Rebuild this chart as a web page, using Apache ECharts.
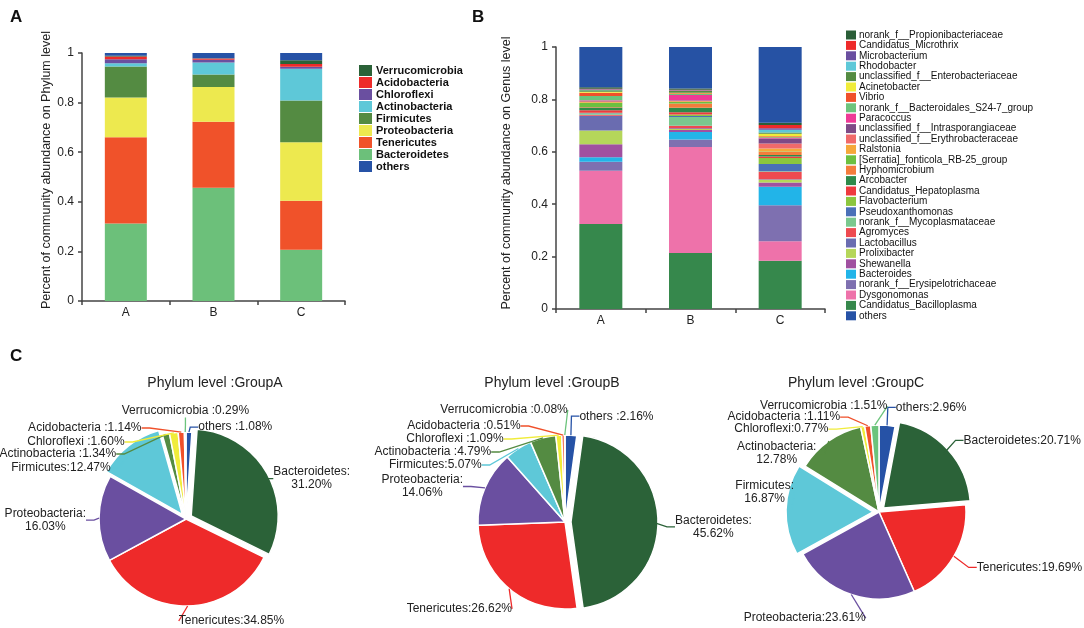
<!DOCTYPE html>
<html><head><meta charset="utf-8">
<script src="https://cdn.jsdelivr.net/npm/echarts@6/dist/echarts.min.js"></script>
<style>html,body{margin:0;padding:0;background:#fff}#c{width:1084px;height:628px}</style>
</head><body><div id="c"></div>
<script>
// ---------- DATA ----------
const groups = ['A', 'B', 'C'];
// phylum level, percent (pie order, clockwise from 12 o'clock)
const phylumNames = ['others', 'Bacteroidetes', 'Tenericutes', 'Proteobacteria', 'Firmicutes', 'Actinobacteria', 'Chloroflexi', 'Acidobacteria', 'Verrucomicrobia'];
const phylumA = [1.08, 31.20, 34.85, 16.03, 12.47, 1.34, 1.60, 1.14, 0.29];
const phylumB = [2.16, 45.62, 26.62, 14.06, 5.07, 4.79, 1.09, 0.51, 0.08];
const phylumC = [2.96, 20.71, 19.69, 23.61, 16.87, 12.78, 0.77, 1.11, 1.51];
const phylumLegend = ['Verrucomicrobia', 'Acidobacteria', 'Chloroflexi', 'Actinobacteria', 'Firmicutes', 'Proteobacteria', 'Tenericutes', 'Bacteroidetes', 'others'];
const pieTitles = ['Phylum level :GroupA', 'Phylum level :GroupB', 'Phylum level :GroupC'];
// label text details: which labels break onto two lines, which have " :" separator
const pieWrapped = [['Bacteroidetes', 'Proteobacteria'], ['Bacteroidetes', 'Proteobacteria'], ['Firmicutes', 'Actinobacteria']];
const pieSpaced = [['Verrucomicrobia', 'others', 'Acidobacteria', 'Chloroflexi', 'Actinobacteria'],
                   ['Verrucomicrobia', 'others', 'Acidobacteria', 'Chloroflexi', 'Actinobacteria'],
                   ['Verrucomicrobia', 'Acidobacteria']];
// genus level, fraction (legend order, top to bottom)
const genusNames = ['norank_f__Propionibacteriaceae', 'Candidatus_Microthrix', 'Microbacterium', 'Rhodobacter',
  'unclassified_f__Enterobacteriaceae', 'Acinetobacter', 'Vibrio', 'norank_f__Bacteroidales_S24-7_group', 'Paracoccus',
  'unclassified_f__Intrasporangiaceae', 'unclassified_f__Erythrobacteraceae', 'Ralstonia', '[Serratia]_fonticola_RB-25_group',
  'Hyphomicrobium', 'Arcobacter', 'Candidatus_Hepatoplasma', 'Flavobacterium', 'Pseudoxanthomonas', 'norank_f__Mycoplasmataceae',
  'Agromyces', 'Lactobacillus', 'Prolixibacter', 'Shewanella', 'Bacteroides', 'norank_f__Erysipelotrichaceae', 'Dysgonomonas',
  'Candidatus_Bacilloplasma', 'others'];
const genusA = [0.005, 0.002, 0.002, 0.002, 0.006, 0.004, 0.012, 0.016, 0.002, 0.002, 0.003, 0.003, 0.016, 0.002, 0.010, 0.010, 0.002, 0.002, 0.004, 0.003, 0.057, 0.052, 0.050, 0.017, 0.034, 0.204, 0.324, 0.154];
const genusB = [0.005, 0.002, 0.002, 0.001, 0.007, 0.002, 0.002, 0.004, 0.020, 0.002, 0.002, 0.003, 0.006, 0.016, 0.017, 0.009, 0.005, 0.004, 0.034, 0.009, 0.003, 0.004, 0.007, 0.029, 0.029, 0.404, 0.214, 0.158];
const genusC = [0.009, 0.012, 0.006, 0.010, 0.005, 0.010, 0.003, 0.003, 0.002, 0.019, 0.019, 0.012, 0.002, 0.011, 0.006, 0.006, 0.023, 0.027, 0.002, 0.029, 0.002, 0.010, 0.016, 0.071, 0.137, 0.075, 0.184, 0.289];
const yTicks = [0, 0.2, 0.4, 0.6, 0.8, 1];

// ---------- STYLES / LAYOUT ----------
const FONT = 'Liberation Sans, Arial, sans-serif';
const phylumBarColors = {
  Verrucomicrobia: '#2b6238', Acidobacteria: '#ee2a2a', Chloroflexi: '#6a4fa0', Actinobacteria: '#5ec8d8',
  Firmicutes: '#548b42', Proteobacteria: '#ede94f', Tenericutes: '#f0522a', Bacteroidetes: '#6cc07a', others: '#2652a6'
};
const phylumPieColors = {
  others: '#2652a6', Bacteroidetes: '#2b6238', Tenericutes: '#ee2a2a', Proteobacteria: '#6a4fa0', Firmicutes: '#5ec8d8',
  Actinobacteria: '#548b42', Chloroflexi: '#f0ec3a', Acidobacteria: '#f0502a', Verrucomicrobia: '#6cc47c'
};
const genusColors = ['#2b5e38', '#ee2a2a', '#6a4fa0', '#5ec8d8', '#548b42', '#f0ec3a', '#f0502a', '#6cc47c', '#ee3a96',
  '#7e4a86', '#f06a6a', '#f5a83a', '#6cc040', '#f47c3c', '#2e8a4a', '#ee3a3e', '#8cc63e', '#4a70b8', '#7ac88e', '#ee4a50',
  '#6a6cb0', '#b5d65a', '#a050a0', '#22b4e8', '#7e70b0', '#ee72aa', '#36884c', '#2652a4'];
const pieCenters = [[186, 519], [565, 522], [879, 512]];
const pieExplode = [['Bacteroidetes', 'Firmicutes'], ['Bacteroidetes'], ['Bacteroidetes', 'Firmicutes']];
// fine nudges of the automatically placed pie labels [dx, dy]
const pieLabelShift = [
  {Verrucomicrobia: [77, -13], others: [-4, 3], Acidobacteria: [15, -11], Chloroflexi: [16, -12], Actinobacteria: [19, -15],
   Firmicutes: [21, -16], Bacteroidetes: [-8, 7], Proteobacteria: [3, 2], Tenericutes: [-22, 7]},
  {Verrucomicrobia: [16, -17], others: [-5, -11], Acidobacteria: [15, -16], Chloroflexi: [16, -18], Actinobacteria: [15, -20],
   Firmicutes: [13, -22], Proteobacteria: [0, -22], Bacteroidetes: [2, 5], Tenericutes: [21, 14]},
  {Verrucomicrobia: [26, -11], others: [-5, -10], Acidobacteria: [21, -15], Chloroflexi: [27, -18], Actinobacteria: [30, -15],
   Firmicutes: [18, -17], Bacteroidetes: [1, -8], Tenericutes: [3, 7], Proteobacteria: [30, 16]}
];

const chart = echarts.init(document.getElementById('c'), null, {renderer: 'canvas'});

function yAxisCfg(gridIndex, name, gap, shift) {
  return {
    type: 'value', gridIndex, min: 0, max: 1, interval: 0.2, name, nameLocation: 'middle', nameGap: gap,
    nameTextStyle: {fontFamily: FONT, fontSize: 12.5, color: '#222', padding: [0, 0, 0, shift]},
    axisLine: {show: true, lineStyle: {color: '#444', width: 1.5}},
    axisTick: {show: true, length: 4, lineStyle: {color: '#444', width: 1.5}},
    axisLabel: {fontFamily: FONT, fontSize: 12, color: '#222', margin: 8,
      formatter: v => (yTicks.indexOf(+v.toFixed(1)) >= 0 ? String(+v.toFixed(1)) : '')},
    splitLine: {show: false}
  };
}
function xAxisCfg(gridIndex) {
  return {
    type: 'category', gridIndex, data: groups, boundaryGap: true,
    axisLine: {lineStyle: {color: '#444', width: 1.5}},
    axisTick: {show: true, length: 4, alignWithLabel: false, lineStyle: {color: '#444', width: 1.5}},
    axisLabel: {fontFamily: FONT, fontSize: 12, color: '#222', margin: 6}
  };
}

const series = [];
// Chart A: phylum stacked bars (bottom -> top)
const phylumStack = ['Bacteroidetes', 'Tenericutes', 'Proteobacteria', 'Firmicutes', 'Actinobacteria', 'Chloroflexi', 'Acidobacteria', 'Verrucomicrobia', 'others'];
const phylumByGroup = [phylumA, phylumB, phylumC];
phylumStack.forEach(n => {
  const idx = phylumNames.indexOf(n);
  series.push({
    type: 'bar', name: n, xAxisIndex: 0, yAxisIndex: 0, stack: 'phylum', barWidth: 42,
    itemStyle: {color: phylumBarColors[n]},
    data: phylumByGroup.map(arr => arr[idx] / 100)
  });
});
// Chart B: genus stacked bars (bottom = last legend entry before others)
const genusByGroup = [genusA, genusB, genusC];
const genusStackIdx = [];
for (let i = genusNames.length - 2; i >= 0; i--) genusStackIdx.push(i);
genusStackIdx.push(genusNames.length - 1);
genusStackIdx.forEach(i => {
  series.push({
    type: 'bar', name: genusNames[i], xAxisIndex: 1, yAxisIndex: 1, stack: 'genus', barWidth: 43,
    itemStyle: {color: genusColors[i]},
    data: genusByGroup.map(arr => arr[i])
  });
});
// Pies: one drawing the sectors (with exploded slices), one transparent twin carrying the labels
phylumByGroup.forEach((arr, g) => {
  const common = {type: 'pie', center: pieCenters[g], radius: 87, startAngle: 90, clockwise: true, emphasis: {disabled: true}};
  series.push(Object.assign({}, common, {
    name: pieTitles[g], selectedMode: 'multiple', selectedOffset: 6,
    itemStyle: {borderColor: '#fff', borderWidth: 1.5},
    label: {show: false}, labelLine: {show: false},
    data: phylumNames.map((n, i) => ({name: n, value: arr[i], selected: pieExplode[g].indexOf(n) >= 0,
      itemStyle: {color: phylumPieColors[n]}}))
  }));
  series.push(Object.assign({}, common, {
    name: pieTitles[g] + ' labels', silent: true, avoidLabelOverlap: true, z: 3,
    itemStyle: {color: 'rgba(0,0,0,0)', borderWidth: 0},
    label: {show: true, position: 'outside', overflow: 'none', fontFamily: FONT, fontSize: 12, color: '#222', lineHeight: 13,
      formatter: p => p.name + (pieSpaced[g].indexOf(p.name) >= 0 ? ' :' : ':') +
        (pieWrapped[g].indexOf(p.name) >= 0 ? '\n' : '') + p.value.toFixed(2) + '%'},
    labelLine: {show: true, length: 8, length2: 8, lineStyle: {width: 1.3}},
    labelLayout: p => {
      const s = pieLabelShift[g][phylumNames[p.dataIndex]] || [0, 0];
      const r = p.labelRect;
      return {x: r.x + r.width / 2 + s[0], y: r.y + r.height / 2 + s[1], align: 'center', verticalAlign: 'middle'};
    },
    data: phylumNames.map((n, i) => ({name: n, value: arr[i],
      labelLine: {lineStyle: {color: phylumPieColors[n]}}}))
  }));
});

const option = {
  animation: false,
  textStyle: {fontFamily: FONT},
  title: [
    {text: 'A', left: 5, top: 4, textStyle: {fontFamily: FONT, fontSize: 17, fontWeight: 'bold', color: '#111'}},
    {text: 'B', left: 467, top: 4, textStyle: {fontFamily: FONT, fontSize: 17, fontWeight: 'bold', color: '#111'}},
    {text: 'C', left: 5, top: 343, textStyle: {fontFamily: FONT, fontSize: 17, fontWeight: 'bold', color: '#111'}},
    {text: pieTitles[0], left: 210, top: 371, textAlign: 'center', textStyle: {fontFamily: FONT, fontSize: 14, fontWeight: 'normal', color: '#222'}},
    {text: pieTitles[1], left: 547, top: 371, textAlign: 'center', textStyle: {fontFamily: FONT, fontSize: 14, fontWeight: 'normal', color: '#222'}},
    {text: pieTitles[2], left: 851, top: 371, textAlign: 'center', textStyle: {fontFamily: FONT, fontSize: 14, fontWeight: 'normal', color: '#222'}}
  ],
  grid: [
    {left: 82, top: 53, width: 263, height: 248, containLabel: false},
    {left: 556, top: 47, width: 269, height: 262, containLabel: false}
  ],
  xAxis: [xAxisCfg(0), xAxisCfg(1)],
  yAxis: [
    yAxisCfg(0, 'Percent of community abundance on Phylum level', 18, 14),
    yAxisCfg(1, 'Percent of community abundance on Genus level', 43, 10)
  ],
  legend: [
    {orient: 'vertical', left: 354, top: 60, itemWidth: 13, itemHeight: 11, itemGap: 1, icon: 'rect',
      data: phylumLegend, selectedMode: false,
      textStyle: {fontFamily: FONT, fontSize: 11, fontWeight: 'bold', color: '#111', lineHeight: 11, padding: [0, 0, 0, -1]}},
    {orient: 'vertical', left: 841, top: 25, itemWidth: 10, itemHeight: 9, itemGap: 0.4, icon: 'rect',
      data: genusNames, selectedMode: false,
      textStyle: {fontFamily: FONT, fontSize: 10, color: '#111', lineHeight: 9, padding: [0, 0, 0, -2]}}
  ],
  series
};
chart.setOption(option);
</script></body></html>
